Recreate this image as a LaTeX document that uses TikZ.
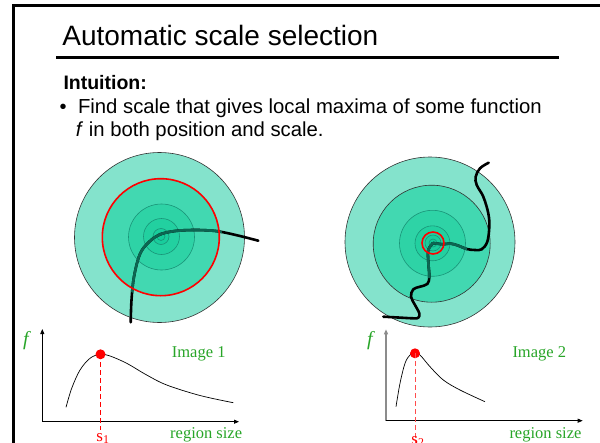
\documentclass[tikz,border=0pt]{standalone}
\usepackage{fontspec}
\setmainfont{Liberation Sans}
\newfontfamily\timesnf{Liberation Serif}
\usetikzlibrary{arrows.meta}
\definecolor{ringA}{HTML}{84E3CC}
\definecolor{ringB}{HTML}{42D8B1}
\definecolor{ringC}{HTML}{2ED3A6}
\definecolor{ringD}{HTML}{22D0A0}
\definecolor{ringE}{HTML}{18CD9C}
\definecolor{ringF}{HTML}{12CB99}
\definecolor{ringline}{HTML}{1A9478}
\definecolor{tealpath}{HTML}{0C6652}
\definecolor{lblgreen}{RGB}{40,165,40}
\newcommand\pathL{plot[smooth,tension=0.6] coordinates {(130.7,322.3) (131.5,300) (134,276.7) (140,254) (149,242) (160,234.5) (175,231) (193.3,230) (210,230.5) (222,232) (240,236) (258.3,240.7)}}
\newcommand\pathRa{plot[smooth,tension=0.6] coordinates {(433,243) (443.3,244.3) (450,243.5) (458,245.5) (466.7,249) (475,250) (481.7,249.3) (487.3,241.7) (489.3,226.7) (488.3,213.3) (483.3,196.7) (476.7,185) (475.7,176.7) (480,168.3) (488.7,162.7)}}
\newcommand\pathRb{plot[smooth,tension=0.6] coordinates {(433,243) (428.3,250) (428.3,262) (429.3,276.7) (427.3,284) (420,286.7) (413.3,289.3) (411,296.7) (415,305) (419.3,313.3) (418.3,317.7) (413.3,318.3) (398,317.5) (383.3,316.7)}}
\tikzset{
  title/.style={font=\fontsize{28}{31}\selectfont, inner sep=0pt, anchor=base west},
  body/.style={font=\fontsize{20.3}{23}\selectfont, inner sep=0pt, anchor=base west},
  ring/.style={draw=ringline, line width=0.6pt},
  outerring/.style={draw=black!80, line width=0.6pt, fill=ringA},
  redring/.style={draw=red, line width=1.6pt},
  curvepath/.style={line width=2.6pt, line cap=round},
  axis/.style={line width=0.8pt, -{Triangle[length=5pt,width=4pt]}},
  fcurve/.style={line width=0.7pt},
  peak/.style={circle, fill=red, inner sep=0pt, minimum size=10pt},
  drop/.style={red, dashed, dash pattern=on 5pt off 3pt, line width=0.8pt},
  plotlbl/.style={font=\timesnf\fontsize{16.5}{18}\selectfont, text=lblgreen, inner sep=0pt, anchor=base west},
  flbl/.style={font=\timesnf\itshape\fontsize{20}{20}\selectfont, text=lblgreen, inner sep=0pt, anchor=base west},
  slbl/.style={font=\timesnf\fontsize{17}{18}\selectfont, text=red, inner sep=0pt, anchor=base}
}
\begin{document}
\begin{tikzpicture}[x=1pt,y=-1pt]
\useasboundingbox (0,0) rectangle (600,442);
% slide frame
\draw[line width=3pt] (13.3,450) -- (13.3,5) -- (610,5);
% title and rule
\node[title] (ttl) at (62.2,45) {Automatic scale selection};
\draw[line width=3pt] (56,57.3) -- (559,57.3);
% text
\node[body, font=\bfseries\fontsize{19.5}{23}\selectfont] (intu) at (63.3,89.3) {Intuition:};
\node[body, font=\fontsize{20}{23}\selectfont] (bul) at (59.5,113.3) {•};
\node[body] (line1) at (77.8,113.3) {Find scale that gives local maxima of some function};
\node[body] (line2) at (75.7,136) {\textit{f} in both position and scale.};

% left set of rings
\fill[outerring] (159.5,237.5) circle[radius=85pt];
\fill[ringB] (160.8,237.2) circle[radius=58.5pt];
\draw[ring, fill=ringC] (161.5,237) circle[radius=33pt];
\draw[ring, fill=ringD] (161.5,236.5) circle[radius=18pt];
\draw[ring, fill=ringE] (161,236.5) circle[radius=8pt];
\draw[ring, fill=ringF] (161,236.5) circle[radius=4pt];
\draw[curvepath] \pathL;
\begin{scope}
  \clip (160,237) circle[radius=62pt];
  \draw[curvepath, tealpath] \pathL;
\end{scope}
\draw[redring] (160.8,237.2) circle[radius=58.5pt];

% right set of rings
\fill[outerring] (430,242) circle[radius=85pt];
\draw[draw=black!80, line width=0.6pt, fill=ringB] (431.7,243.7) circle[radius=58.5pt];
\draw[ring, fill=ringC] (432.5,243.3) circle[radius=33pt];
\draw[ring, fill=ringD] (432.5,243.3) circle[radius=17.5pt];
\draw[ring, fill=ringE] (433,243) circle[radius=8pt];
\draw[ring, fill=ringF] (433,243) circle[radius=4pt];
\draw[curvepath] \pathRa;
\draw[curvepath] \pathRb;
\begin{scope}
  \clip (432.5,243.3) circle[radius=35pt];
  \draw[curvepath, tealpath] \pathRa;
  \draw[curvepath, tealpath] \pathRb;
\end{scope}
\draw[redring] (433,243) circle[radius=11pt];

% plot for image 1
\coordinate (o1) at (42.3,421.7);
\coordinate (y1) at (42.3,329);
\coordinate (x1) at (239,421.7);
\draw[axis] (o1) -- (y1);
\draw[axis] (o1) -- (x1);
\draw[fcurve] plot[smooth,tension=0.55] coordinates {(66,407.3) (71.7,388.3) (80,370) (90,358.3) (100,354.3) (110,356) (126.7,363.3) (146.7,375) (166.7,385) (200,395.5) (233.3,402.7)};
\node[peak] (p1) at (100.5,354.3) {};
\coordinate (d1) at (100.5,430);
\draw[drop] (p1.center) -- (d1);
\node[flbl] (f1) at (23,345) {f};
\node[plotlbl] (im1) at (171.7,357.7) {Image 1};
\node[plotlbl] (rs1) at (170,438.3) {region size};
\node[slbl] (s1) at (103,441) {s\textsubscript{1}};

% plot for image 2
\coordinate (o2) at (386,420.7);
\coordinate (y2) at (386,329.3);
\coordinate (x2) at (582.7,420.7);
\draw[axis, draw=black!45, line width=1.3pt] (o2) -- (y2);
\draw[axis] (o2) -- (x2);
\draw[fcurve] plot[smooth,tension=0.55] coordinates {(396,406.7) (400,383.3) (405,363.3) (410,355) (415,353.3) (420,355) (430,366.7) (443.3,380) (460,390) (485,401.7)};
\node[peak] (p2) at (415,353.3) {};
\coordinate (d2) at (415,445);
\draw[drop, red!70] (p2.center) -- (d2);
\node[flbl] (f2) at (367,345) {f};
\node[plotlbl] (im2) at (512.3,357.7) {Image 2};
\node[plotlbl] (rs2) at (509.3,438.3) {region size};
\node[slbl] (s2) at (418,444) {s\textsubscript{2}};
\end{tikzpicture}
\end{document}
